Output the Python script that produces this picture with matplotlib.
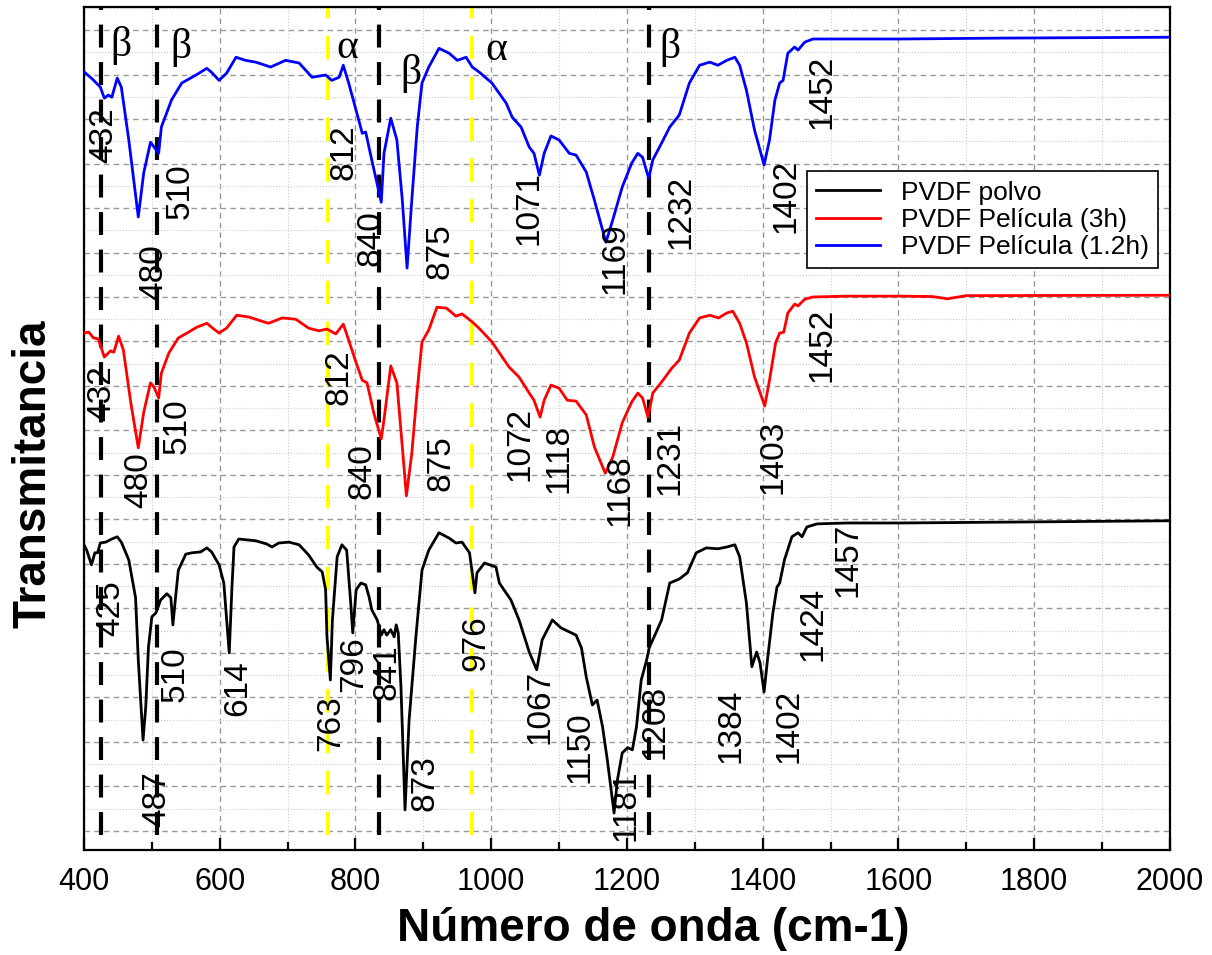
import matplotlib
matplotlib.use("Agg")
import matplotlib.pyplot as plt
from matplotlib.ticker import MultipleLocator

plt.rcParams['font.family'] = ['Liberation Sans', 'DejaVu Sans']

# PVDF film (1.2h) - blue, top
wn_blue = [400, 411, 424, 430, 436, 441, 449, 455, 466, 480, 488, 498, 510, 514, 529, 544,
           565, 581, 588, 599, 610, 624, 638, 653, 675, 697, 717, 736, 756, 765, 776, 782,
           790, 798, 810, 815, 824, 838, 842, 852, 861, 869, 876, 883, 891, 898, 908, 923,
           938, 950, 963, 972, 982, 1001, 1022, 1031, 1044, 1056, 1063, 1071, 1078, 1088,
           1100, 1115, 1125, 1140, 1152, 1169, 1179, 1193, 1207, 1216, 1223, 1232, 1238,
           1251, 1263, 1277, 1292, 1307, 1322, 1334, 1347, 1359, 1366, 1376, 1388, 1402,
           1410, 1418, 1425, 1430, 1437, 1447, 1452, 1462, 1474, 1524, 1602, 1750, 2000]
t_blue = [17.06, 16.92, 16.72, 16.47, 16.54, 16.49, 16.92, 16.72, 15.53, 13.80, 14.79, 15.48,
          15.23, 15.82, 16.43, 16.81, 16.99, 17.14, 17.05, 16.87, 17.03, 17.39, 17.32, 17.28,
          17.17, 17.32, 17.26, 16.94, 16.99, 16.87, 16.94, 17.21, 16.81, 16.36, 15.68, 15.71,
          15.08, 14.13, 15.23, 16.02, 15.53, 14.18, 12.65, 14.18, 15.82, 16.81, 17.17, 17.59,
          17.48, 17.32, 17.39, 17.17, 17.06, 16.81, 16.36, 16.04, 15.82, 15.37, 15.23, 14.74,
          15.23, 15.62, 15.53, 15.23, 15.19, 14.81, 14.18, 13.23, 13.73, 14.47, 15.01, 15.23,
          15.14, 14.67, 15.08, 15.46, 15.82, 16.09, 16.81, 17.21, 17.28, 17.21, 17.32, 17.39,
          17.21, 16.65, 15.75, 14.97, 15.53, 16.43, 16.81, 16.87, 17.48, 17.62, 17.55, 17.73,
          17.80, 17.80, 17.80, 17.82, 17.84]

# PVDF film (3h) - red, middle
wn_red = [400, 407, 414, 421, 430, 439, 444, 451, 458, 469, 480, 488, 498, 503, 510, 514,
          525, 539, 554, 566, 581, 588, 599, 610, 625, 643, 661, 672, 692, 712, 731, 746,
          758, 771, 782, 790, 801, 810, 817, 827, 838, 842, 852, 861, 869, 875, 883, 891,
          898, 908, 920, 934, 948, 957, 972, 982, 1001, 1026, 1041, 1056, 1063, 1072, 1078,
          1088, 1100, 1112, 1125, 1140, 1152, 1168, 1179, 1193, 1207, 1216, 1223, 1231,
          1238, 1251, 1266, 1277, 1292, 1307, 1322, 1335, 1347, 1356, 1366, 1376, 1388,
          1403, 1410, 1419, 1425, 1431, 1437, 1447, 1452, 1462, 1474, 1524, 1602, 1650,
          1672, 1700, 2000]
t_red = [11.19, 11.21, 11.08, 11.06, 10.65, 10.79, 10.76, 11.12, 10.81, 9.62, 8.61, 9.41,
         10.07, 9.98, 9.73, 10.29, 10.74, 11.08, 11.21, 11.32, 11.41, 11.32, 11.19, 11.30,
         11.59, 11.55, 11.46, 11.41, 11.53, 11.50, 11.30, 11.24, 11.28, 11.17, 11.39, 11.03,
         10.52, 10.13, 10.07, 9.39, 8.81, 9.24, 10.45, 10.07, 8.63, 7.53, 8.49, 9.91, 10.99,
         11.26, 11.77, 11.75, 11.57, 11.62, 11.44, 11.30, 10.99, 10.43, 10.20, 9.84, 9.68,
         9.30, 9.68, 10.02, 9.95, 9.68, 9.66, 9.35, 8.63, 8.04, 8.40, 9.17, 9.64, 9.84, 9.73,
         9.30, 9.84, 10.09, 10.40, 10.58, 11.19, 11.53, 11.59, 11.53, 11.64, 11.68, 11.41,
         10.97, 10.20, 9.55, 10.13, 10.97, 11.19, 11.21, 11.64, 11.84, 11.80, 11.95, 12.00,
         12.02, 12.02, 12.01, 11.96, 12.03, 12.04]

# PVDF powder - black, bottom
wn_black = [400, 404, 411, 416, 420, 424, 432, 441, 449, 455, 466, 476, 480, 487, 491, 495,
            500, 506, 513, 522, 528, 531, 535, 539, 550, 559, 572, 581, 588, 599, 606, 614,
            618, 621, 628, 653, 669, 677, 687, 702, 717, 731, 743, 751, 756, 758, 763, 766,
            773, 780, 787, 793, 796, 801, 808, 815, 820, 824, 832, 838, 842, 846, 852, 857,
            860, 863, 867, 873, 879, 889, 898, 908, 923, 938, 948, 957, 968, 972, 976, 979,
            990, 1007, 1012, 1029, 1041, 1056, 1067, 1075, 1090, 1103, 1125, 1133, 1140, 1149,
            1156, 1164, 1171, 1181, 1186, 1193, 1201, 1208, 1214, 1221, 1229, 1233, 1240, 1251,
            1263, 1277, 1289, 1302, 1317, 1334, 1347, 1359, 1366, 1376, 1384, 1391, 1396, 1402,
            1407, 1415, 1421, 1425, 1432, 1443, 1452, 1458, 1465, 1480, 1524, 1602, 2000]
t_black = [6.43, 6.31, 5.98, 6.25, 6.25, 6.47, 6.49, 6.56, 6.61, 6.49, 6.09, 5.24, 3.84,
           2.04, 2.79, 4.13, 4.81, 4.90, 5.19, 5.33, 5.24, 4.63, 5.26, 5.86, 6.22, 6.25, 6.27,
           6.36, 6.27, 5.98, 5.57, 4.00, 5.48, 6.38, 6.56, 6.52, 6.45, 6.38, 6.47, 6.49, 6.43,
           6.20, 5.93, 5.82, 5.42, 4.36, 3.39, 4.74, 6.16, 6.43, 6.31, 5.12, 4.45, 5.42, 5.57,
           5.53, 5.26, 4.97, 4.74, 4.40, 4.52, 4.40, 4.52, 4.36, 4.63, 4.45, 3.24, 0.47, 2.49,
           4.36, 5.86, 6.31, 6.70, 6.58, 6.47, 6.49, 6.25, 5.80, 5.35, 5.80, 6.02, 5.93, 5.57,
           5.19, 4.74, 4.02, 3.62, 4.29, 4.74, 4.56, 4.40, 4.11, 3.46, 2.83, 2.94, 2.34, 1.60,
           0.40, 1.15, 1.75, 1.87, 1.82, 2.34, 3.39, 3.84, 4.13, 4.36, 4.74, 5.57, 5.66, 5.80,
           6.25, 6.36, 6.34, 6.38, 6.43, 6.16, 5.12, 3.69, 4.02, 3.78, 3.12, 3.84, 4.90, 5.48,
           5.57, 6.09, 6.61, 6.70, 6.61, 6.83, 6.90, 6.92, 6.92, 6.97]

# peak labels: (wavenumber position, height, text)
lab_blue_x = [429, 503, 541, 783, 823, 925, 1056, 1182, 1280, 1434, 1487]
lab_blue_y = [15.64, 12.56, 14.38, 15.26, 13.32, 13.03, 14.00, 12.88, 13.91, 14.27, 16.61]
lab_blue = ['432', '480', '510', '812', '840', '875', '1071', '1169', '1232', '1402', '1452']

lab_red_x = [426, 480, 538, 776, 810, 926, 1043, 1100, 1189, 1264, 1415, 1487]
lab_red_y = [9.84, 7.89, 9.10, 10.20, 8.09, 8.27, 8.70, 8.38, 7.66, 8.38, 8.40, 10.92]
lab_red = ['432', '480', '510', '812', '840', '875', '1072', '1118', '1168', '1231', '1403', '1452']

lab_black_x = [439, 507, 534, 627, 764, 798, 847, 903, 978, 1072, 1131, 1198, 1242, 1353,
               1438, 1474, 1525]
lab_black_y = [5.01, 0.72, 3.53, 3.21, 2.43, 3.75, 3.57, 1.08, 4.22, 2.79, 1.87, 0.58, 2.45,
               2.36, 2.36, 4.65, 6.09]
lab_black = ['425', '487', '510', '614', '763', '796', '841', '873', '976', '1067', '1150',
             '1181', '1208', '1384', '1402', '1424', '1457']

# phase marker lines and greek labels
beta_lines = [425, 508, 835, 1232]
alpha_lines = [760, 972]
greek_x = [455, 543, 788, 882, 1007, 1263]
greek_y = [17.66, 17.6, 17.6, 17.03, 17.55, 17.6]
greek = ['β', 'β', 'α', 'β', 'α', 'β']

fig = plt.figure(figsize=(12.12, 9.55), dpi=100)
ax = fig.add_axes([0.0693, 0.110, 0.8960, 0.8827])

for x in beta_lines:
    ax.axvline(x, ymin=0.018, ymax=1, color='black', lw=3, ls=(0, (5.5, 3.5)), zorder=1)
for x in alpha_lines:
    ax.axvline(x, ymin=0.018, ymax=1, color='#ffff00', lw=2.8, ls=(0, (6, 4.5)), zorder=1)

ax.plot(wn_black, t_black, color='black', lw=2.0, label='PVDF polvo', zorder=3)
ax.plot(wn_red, t_red, color='red', lw=2.0, label='PVDF Película (3h)', zorder=3)
ax.plot(wn_blue, t_blue, color='blue', lw=2.0, label='PVDF Película (1.2h)', zorder=3)

for xs, ys, ss in [(lab_blue_x, lab_blue_y, lab_blue), (lab_red_x, lab_red_y, lab_red),
                   (lab_black_x, lab_black_y, lab_black)]:
    for x, y, s in zip(xs, ys, ss):
        ax.text(x, y, s, rotation=90, ha='center', va='center', fontsize=24, zorder=4)

for x, y, s in zip(greek_x, greek_y, greek):
    ax.text(x, y, s, ha='center', va='center', fontsize=30,
            family=['Liberation Serif', 'DejaVu Serif'], zorder=4)

ax.set_xlim(400, 2000)
ax.set_ylim(-0.43, 18.52)
ax.xaxis.set_major_locator(MultipleLocator(200))
ax.xaxis.set_minor_locator(MultipleLocator(100))
ax.yaxis.set_major_locator(MultipleLocator(1))
ax.yaxis.set_minor_locator(MultipleLocator(0.5))
ax.grid(which='major', ls='--', color='#999999', lw=1.0, dashes=(4, 3))
ax.grid(which='minor', ls=':', color='#cccccc', lw=0.8)
ax.set_axisbelow(True)

ax.tick_params(axis='y', which='both', left=False, labelleft=False)
ax.tick_params(axis='x', which='major', direction='in', length=9, width=1.6, labelsize=22, pad=12)
ax.tick_params(axis='x', which='minor', direction='in', length=6, width=1.6)
for sp in ax.spines.values():
    sp.set_linewidth(1.6)

ax.set_xlabel('Número de onda (cm-1)', fontsize=33, fontweight='bold')
ax.set_ylabel('Transmitancia', fontsize=33, fontweight='bold')
ax.xaxis.set_label_coords(0.524, -0.068)
ax.yaxis.set_label_coords(-0.026, 0.446)

leg = ax.legend(loc='upper right', bbox_to_anchor=(0.989, 0.805), borderaxespad=0,
                fontsize=19, fancybox=False, edgecolor='black', framealpha=1,
                handlelength=2.4, labelspacing=0.12, handletextpad=0.8, borderpad=0.35)
leg.get_frame().set_linewidth(1.2)

fig.savefig('out.png', dpi=100)
